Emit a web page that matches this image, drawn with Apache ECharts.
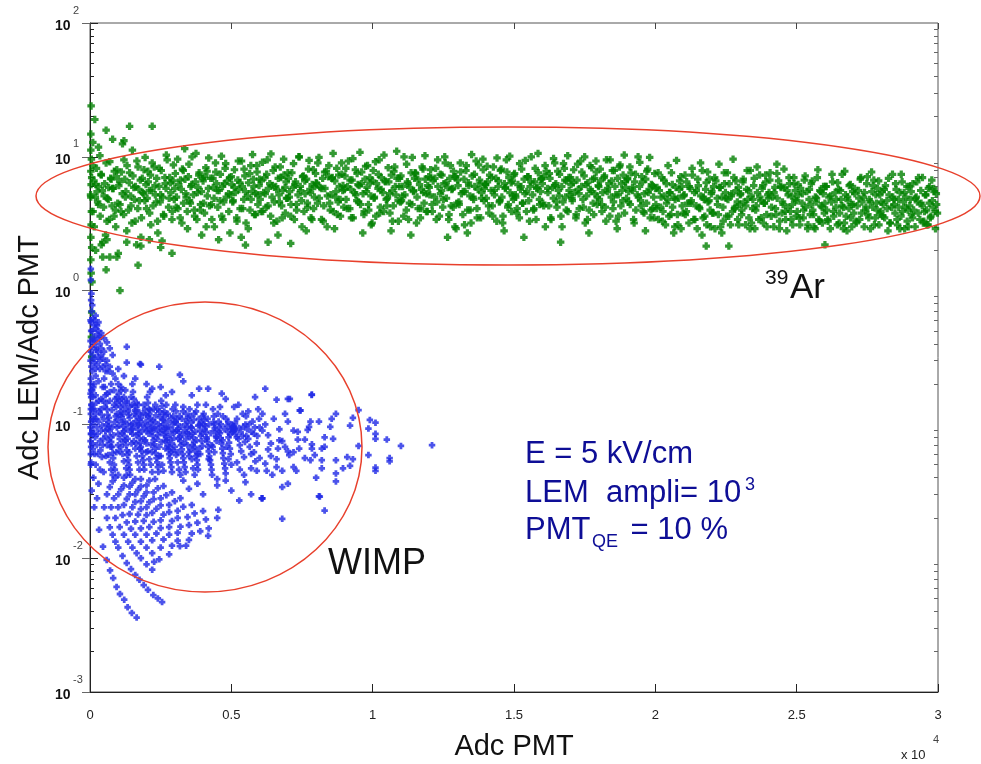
<!DOCTYPE html>
<html><head><meta charset="utf-8">
<script src="https://cdn.jsdelivr.net/npm/echarts@6/dist/echarts.min.js"></script>
<style>html,body{margin:0;padding:0;background:#fff}#c{width:981px;height:764px}</style>
</head><body><div id="c"></div>
<script>
// ---- axis ticks ----
const xTickValues = [0, 0.5, 1, 1.5, 2, 2.5, 3];
const yDecades = [0.001, 0.01, 0.1, 1, 10, 100];
const yMinorTicks = [0.002,0.003,0.004,0.005,0.006,0.007,0.008,0.009,
  0.02,0.03,0.04,0.05,0.06,0.07,0.08,0.09,
  0.2,0.3,0.4,0.5,0.6,0.7,0.8,0.9,
  2,3,4,5,6,7,8,9,
  20,30,40,50,60,70,80,90];

// ---- 39Ar (green) points: [Adc PMT /1e4, Adc LEM/Adc PMT] ----
const greenOutliers = [[0.004,24],[0.017,19],[0.057,15.8],[0.003,14.8],[0.14,16.9],[0.22,16.9],[0.01,12.8],[0.08,13.5],[0.03,11.8],[0.12,13.2],[0.003,11.2],[0.005,9.6],[0.003,7.8],[0.004,6.2],[0.003,5.0],[0.005,3.9],[0.004,3.1],[0.003,2.5],[0.006,2.1],[0.02,2.0],[0.045,1.78],[0.07,1.78],[0.095,1.78],[0.057,1.43],[0.17,1.55],[0.29,1.9],[0.106,1.0],[0.007,1.16],[0.006,0.69],[0.006,0.32],[0.005,0.45],[0.004,1.35],[0.18,2.15],[0.13,2.3],[0.25,2.1],[0.06,2.4],[0.04,2.2],[0.1,1.9],[0.21,2.4],[0.003,1.7],[0.55,2.19],[0.63,2.3],[0.71,2.25],[2.18,2.15],[2.26,2.15],[2.6,2.2],[2.43,8.8]];
const greenLeft = [[0.01,8.6],[0.02,6.2],[0.03,4.4],[0.04,7.3],[0.05,5.1],[0.06,3.3],[0.07,9.2],[0.08,5.8],[0.09,4.0],[0.015,3.0],[0.035,10.2],[0.055,2.6],[0.075,6.8],[0.085,3.6],[0.095,8.0],[0.025,5.5],[0.045,2.3],[0.065,4.8],
[0.105,6.5],[0.11,3.9],[0.12,9.5],[0.125,5.0],[0.13,2.8],[0.14,7.6],[0.145,4.3],[0.15,11.2],[0.155,5.9],[0.16,3.3],[0.17,8.4],[0.175,4.7],[0.18,2.5],[0.185,6.9],[0.19,5.3],[0.195,9.9],[0.115,12.5],[0.165,2.2],
[0.2,4.1],[0.205,7.8],[0.21,5.6],[0.215,3.1],[0.22,9.0],[0.23,6.1],[0.235,4.6],[0.24,2.7],[0.245,8.2],[0.25,5.2],[0.26,3.7],[0.265,7.0],[0.27,10.3],[0.28,4.9],[0.285,6.4],[0.29,3.4],[0.295,8.7],[0.255,2.35],
[0.3,5.8],[0.305,4.2],[0.31,9.6],[0.32,6.7],[0.325,3.2],[0.33,7.9],[0.34,5.0],[0.345,2.9],[0.35,8.8],[0.355,4.5],[0.36,6.2],[0.37,3.6],[0.375,10.6],[0.38,5.4],[0.385,7.3],[0.39,4.0],[0.395,2.6],[0.335,11.5],
[0.4,6.6],[0.405,3.8],[0.41,8.3],[0.415,5.1],[0.42,9.8],[0.43,4.4],[0.435,6.9],[0.44,3.0],[0.445,7.7],[0.45,5.6],[0.46,4.7],[0.465,10.1],[0.47,3.4],[0.475,6.3],[0.48,8.9],[0.49,5.3],[0.495,2.7],[0.455,2.4],
[0.5,7.1],[0.505,4.6],[0.51,5.9],[0.52,3.3],[0.525,9.3],[0.53,6.4],[0.54,4.1],[0.545,8.1],[0.55,5.5],[0.56,2.9],[0.565,7.5],[0.57,4.8],[0.575,10.4],[0.58,6.0],[0.585,3.7],[0.59,8.6],[0.595,5.2],[0.535,2.5],
[0.6,6.8],[0.605,3.9],[0.61,9.1],[0.62,5.3],[0.625,7.4],[0.63,4.3],[0.64,10.5],[0.645,6.1],[0.65,3.2],[0.655,8.4],[0.66,5.7],[0.67,4.6],[0.675,7.0],[0.68,3.5],[0.685,9.6],[0.69,5.9],[0.695,4.9],[0.665,2.6],
[0.7,7.6],[0.705,5.0],[0.71,3.6],[0.72,8.9],[0.725,6.2],[0.73,4.4],[0.74,10.0],[0.745,5.6],[0.75,3.0],[0.755,7.2],[0.76,6.6],[0.77,4.2],[0.775,9.4],[0.78,5.4],[0.785,3.4],[0.79,8.0],[0.795,6.0],[0.765,2.8],
[0.8,6.4],[0.805,4.5],[0.81,9.9],[0.82,5.8],[0.825,3.3],[0.83,7.7],[0.84,5.1],[0.845,8.6],[0.85,4.0],[0.855,6.9],[0.86,10.6],[0.87,5.5],[0.875,3.7],[0.88,7.3],[0.885,4.8],[0.89,9.0],[0.895,6.1],[0.865,2.9],
[0.9,5.7],[0.905,8.2],[0.91,4.1],[0.92,6.7],[0.925,3.5],[0.93,9.7],[0.94,5.2],[0.945,7.5],[0.95,4.6],[0.955,10.8],[0.96,6.3],[0.97,3.9],[0.975,8.5],[0.98,5.9],[0.985,4.4],[0.99,7.0],[0.995,3.1],[0.965,2.7]];
const greenLeftCore = [[0.002,5.2],[0.006,7.0],[0.011,3.9],[0.014,6.6],[0.019,5.0],[0.023,8.2],[0.027,4.6],[0.031,6.0],[0.036,3.6],[0.039,7.4],[0.044,5.6],[0.048,4.2],[0.052,6.3],[0.057,9.0],[0.061,4.9],[0.066,5.9],[0.069,3.4],[0.073,6.9],[0.078,4.3],[0.082,5.8],[0.086,7.8],[0.091,3.0],[0.094,7.1],[0.098,4.5],
[0.102,6.1],[0.106,4.4],[0.111,7.7],[0.114,5.3],[0.119,3.7],[0.123,6.8],[0.127,5.5],[0.131,8.6],[0.136,4.0],[0.139,6.4],[0.144,5.1],[0.148,3.2],[0.152,7.2],[0.157,4.8],[0.161,6.0],[0.166,9.3],[0.169,4.1],[0.173,5.7],[0.178,6.7],[0.182,3.5],[0.186,5.4],[0.191,8.0],[0.194,4.7],[0.198,6.2],
[0.202,4.9],[0.206,6.5],[0.211,3.8],[0.214,7.3],[0.219,5.6],[0.223,4.3],[0.227,8.4],[0.231,5.2],[0.236,6.9],[0.239,3.3],[0.244,6.0],[0.248,4.6],[0.252,7.9],[0.257,5.0],[0.261,3.6],[0.266,6.3],[0.269,5.8],[0.273,9.5],[0.278,4.2],[0.282,7.0],[0.286,5.4],[0.291,3.9],[0.294,6.6],[0.298,4.8],
[0.302,7.5],[0.306,5.0],[0.311,4.1],[0.314,6.2],[0.319,3.5],[0.323,5.7],[0.327,8.1],[0.331,4.5],[0.336,6.8],[0.339,5.3],[0.344,3.9],[0.348,7.1],[0.352,4.7],[0.357,6.0],[0.361,10.0],[0.366,5.2],[0.369,4.0],[0.373,6.5],[0.378,3.4],[0.382,5.9],[0.386,7.6],[0.391,4.4],[0.394,5.5],[0.398,6.9],
[0.402,4.5],[0.406,7.1],[0.411,3.0],[0.414,7.8],[0.419,5.8],[0.423,4.3],[0.427,6.9],[0.431,3.4],[0.436,5.9],[0.439,4.9],[0.444,9.0],[0.448,6.3],[0.452,4.2],[0.457,5.6],[0.461,7.4],[0.466,3.6],[0.469,6.0],[0.473,4.6],[0.478,8.2],[0.482,5.0],[0.486,6.6],[0.491,3.9],[0.494,7.0],[0.498,5.2],
[0.502,6.2],[0.506,4.7],[0.511,8.0],[0.514,5.4],[0.519,3.5],[0.523,6.7],[0.527,5.7],[0.531,4.1],[0.536,9.3],[0.539,6.0],[0.544,4.8],[0.548,7.2],[0.552,3.2],[0.557,5.1],[0.561,6.4],[0.566,4.0],[0.569,8.6],[0.573,5.5],[0.578,6.8],[0.582,3.7],[0.586,5.3],[0.591,7.7],[0.594,4.4],[0.598,6.1],
[0.602,4.8],[0.606,6.6],[0.611,3.9],[0.614,5.4],[0.619,7.0],[0.623,4.2],[0.627,9.5],[0.631,5.8],[0.636,6.3],[0.639,3.6],[0.644,5.0],[0.648,7.9],[0.652,4.6],[0.657,6.0],[0.661,3.3],[0.666,6.9],[0.669,5.2],[0.673,8.4],[0.678,4.3],[0.682,5.6],[0.686,7.3],[0.691,3.8],[0.694,6.5],[0.698,4.9],
[0.702,6.9],[0.706,5.5],[0.711,4.4],[0.714,7.6],[0.719,5.9],[0.723,3.4],[0.727,6.5],[0.731,4.0],[0.736,5.2],[0.739,10.0],[0.744,6.0],[0.748,4.7],[0.752,7.1],[0.757,3.9],[0.761,5.3],[0.766,6.8],[0.769,4.5],[0.773,8.1],[0.778,5.7],[0.782,3.5],[0.786,6.2],[0.791,4.1],[0.794,5.0],[0.798,7.5],
[0.802,6.3],[0.806,9.0],[0.811,4.9],[0.814,5.9],[0.819,3.4],[0.823,6.9],[0.827,4.3],[0.831,5.8],[0.836,7.8],[0.839,3.0],[0.844,7.1],[0.848,4.5],[0.852,5.2],[0.857,7.0],[0.861,3.9],[0.866,6.6],[0.869,5.0],[0.873,8.2],[0.878,4.6],[0.882,6.0],[0.886,3.6],[0.891,7.4],[0.894,5.6],[0.898,4.2],
[0.902,7.2],[0.906,4.8],[0.911,6.0],[0.914,9.3],[0.919,4.1],[0.923,5.7],[0.927,6.7],[0.931,3.5],[0.936,5.4],[0.939,8.0],[0.944,4.7],[0.948,6.2],[0.952,6.1],[0.957,4.4],[0.961,7.7],[0.966,5.3],[0.969,3.7],[0.973,6.8],[0.978,5.5],[0.982,8.6],[0.986,4.0],[0.991,6.4],[0.994,5.1],[0.998,3.2]];
const greenMid = [[1.0,6.6],[1.005,4.9],[1.01,9.2],[1.02,7.4],[1.025,3.8],[1.03,5.7],[1.04,10.3],[1.045,6.5],[1.05,4.3],[1.055,8.3],[1.06,5.3],[1.07,3.3],[1.075,7.8],[1.08,6.0],[1.085,11.0],[1.09,4.7],[1.095,6.9],[1.065,2.8],
[1.1,7.2],[1.105,5.1],[1.11,3.6],[1.12,8.8],[1.125,6.3],[1.13,4.5],[1.14,9.9],[1.145,5.6],[1.15,7.6],[1.155,3.2],[1.16,6.8],[1.17,4.1],[1.175,8.4],[1.18,5.4],[1.185,10.2],[1.19,3.9],[1.195,6.1],[1.135,2.6],
[1.2,5.9],[1.205,8.0],[1.21,4.4],[1.22,6.9],[1.225,3.4],[1.23,9.5],[1.24,5.3],[1.245,7.3],[1.25,4.8],[1.255,10.0],[1.26,6.4],[1.27,3.7],[1.275,8.6],[1.28,5.7],[1.285,4.2],[1.29,7.1],[1.295,2.9],[1.265,2.5],
[1.3,6.7],[1.305,4.6],[1.31,9.0],[1.32,5.5],[1.325,3.1],[1.33,7.9],[1.34,6.1],[1.345,4.0],[1.35,10.4],[1.355,5.0],[1.36,7.4],[1.37,3.5],[1.375,8.7],[1.38,6.3],[1.385,4.9],[1.39,9.6],[1.395,5.8],[1.335,2.7],
[1.4,6.2],[1.405,8.5],[1.41,4.3],[1.42,7.0],[1.425,3.6],[1.43,5.6],[1.44,9.8],[1.445,6.6],[1.45,4.7],[1.455,8.1],[1.46,3.2],[1.47,5.9],[1.475,7.7],[1.48,4.4],[1.485,10.1],[1.49,6.4],[1.495,5.1],[1.465,2.8],
[1.5,7.3],[1.505,5.2],[1.51,3.8],[1.52,8.9],[1.525,6.0],[1.53,4.5],[1.54,9.4],[1.545,5.5],[1.55,7.1],[1.555,3.3],[1.56,6.5],[1.57,4.1],[1.575,8.2],[1.58,5.8],[1.585,10.6],[1.59,4.8],[1.595,6.8],[1.535,2.5],
[1.6,6.3],[1.605,4.3],[1.61,8.6],[1.62,5.4],[1.625,7.5],[1.63,3.5],[1.64,9.7],[1.645,6.1],[1.65,4.6],[1.655,7.8],[1.66,5.1],[1.67,3.0],[1.675,8.9],[1.68,6.7],[1.685,4.0],[1.69,10.2],[1.695,5.6],[1.665,2.3],
[1.7,7.0],[1.705,4.9],[1.71,6.4],[1.72,3.7],[1.725,8.8],[1.73,5.3],[1.74,7.7],[1.745,4.2],[1.75,10.0],[1.755,6.2],[1.76,3.4],[1.77,5.7],[1.775,8.3],[1.78,4.5],[1.785,6.9],[1.79,9.3],[1.795,5.0],[1.765,2.7],
[1.8,6.0],[1.805,8.1],[1.81,4.4],[1.82,7.2],[1.825,3.3],[1.83,5.5],[1.84,9.5],[1.845,6.6],[1.85,4.1],[1.855,7.9],[1.86,5.2],[1.87,3.6],[1.875,8.7],[1.88,6.3],[1.885,4.7],[1.89,10.3],[1.895,5.9],[1.865,2.9],
[1.9,6.8],[1.905,4.6],[1.91,8.4],[1.92,5.6],[1.925,3.2],[1.93,7.4],[1.94,5.0],[1.945,9.1],[1.95,4.3],[1.955,6.5],[1.96,3.8],[1.97,7.8],[1.975,5.4],[1.98,9.9],[1.985,4.0],[1.99,6.1],[1.995,3.5],[1.965,2.8]];
const greenMidCore = [[1.002,7.9],[1.006,5.0],[1.011,3.6],[1.014,6.3],[1.019,5.8],[1.023,9.5],[1.027,4.2],[1.031,7.0],[1.036,5.4],[1.039,3.9],[1.044,6.6],[1.048,4.8],[1.052,4.9],[1.057,6.5],[1.061,3.8],[1.066,7.3],[1.069,5.6],[1.073,4.3],[1.078,8.4],[1.082,5.2],[1.086,6.9],[1.091,3.3],[1.094,6.0],[1.098,4.6],
[1.102,4.7],[1.106,6.0],[1.111,10.0],[1.114,5.2],[1.119,4.0],[1.123,6.5],[1.127,3.4],[1.131,5.9],[1.136,7.6],[1.139,4.4],[1.144,5.5],[1.148,6.9],[1.152,7.5],[1.157,5.0],[1.161,4.1],[1.166,6.2],[1.169,3.5],[1.173,5.7],[1.178,8.1],[1.182,4.5],[1.186,6.8],[1.191,5.3],[1.194,3.9],[1.198,7.1],
[1.202,5.2],[1.206,7.0],[1.211,3.9],[1.214,6.6],[1.219,5.0],[1.223,8.2],[1.227,4.6],[1.231,6.0],[1.236,3.6],[1.239,7.4],[1.244,5.6],[1.248,4.2],[1.252,6.3],[1.257,9.0],[1.261,4.9],[1.266,5.9],[1.269,3.4],[1.273,6.9],[1.278,4.3],[1.282,5.8],[1.286,7.8],[1.291,3.0],[1.294,7.1],[1.298,4.5],
[1.302,6.1],[1.306,4.4],[1.311,7.7],[1.314,5.3],[1.319,3.7],[1.323,6.8],[1.327,5.5],[1.331,8.6],[1.336,4.0],[1.339,6.4],[1.344,5.1],[1.348,3.2],[1.352,7.2],[1.357,4.8],[1.361,6.0],[1.366,9.3],[1.369,4.1],[1.373,5.7],[1.378,6.7],[1.382,3.5],[1.386,5.4],[1.391,8.0],[1.394,4.7],[1.398,6.2],
[1.402,4.9],[1.406,6.5],[1.411,3.8],[1.414,7.3],[1.419,5.6],[1.423,4.3],[1.427,8.4],[1.431,5.2],[1.436,6.9],[1.439,3.3],[1.444,6.0],[1.448,4.6],[1.452,7.9],[1.457,5.0],[1.461,3.6],[1.466,6.3],[1.469,5.8],[1.473,9.5],[1.478,4.2],[1.482,7.0],[1.486,5.4],[1.491,3.9],[1.494,6.6],[1.498,4.8],
[1.502,7.5],[1.506,5.0],[1.511,4.1],[1.514,6.2],[1.519,3.5],[1.523,5.7],[1.527,8.1],[1.531,4.5],[1.536,6.8],[1.539,5.3],[1.544,3.9],[1.548,7.1],[1.552,4.7],[1.557,6.0],[1.561,10.0],[1.566,5.2],[1.569,4.0],[1.573,6.5],[1.578,3.4],[1.582,5.9],[1.586,7.6],[1.591,4.4],[1.594,5.5],[1.598,6.9],
[1.602,4.5],[1.606,7.1],[1.611,3.0],[1.614,7.8],[1.619,5.8],[1.623,4.3],[1.627,6.9],[1.631,3.4],[1.636,5.9],[1.639,4.9],[1.644,9.0],[1.648,6.3],[1.652,4.2],[1.657,5.6],[1.661,7.4],[1.666,3.6],[1.669,6.0],[1.673,4.6],[1.678,8.2],[1.682,5.0],[1.686,6.6],[1.691,3.9],[1.694,7.0],[1.698,5.2],
[1.702,6.2],[1.706,4.7],[1.711,8.0],[1.714,5.4],[1.719,3.5],[1.723,6.7],[1.727,5.7],[1.731,4.1],[1.736,9.3],[1.739,6.0],[1.744,4.8],[1.748,7.2],[1.752,3.2],[1.757,5.1],[1.761,6.4],[1.766,4.0],[1.769,8.6],[1.773,5.5],[1.778,6.8],[1.782,3.7],[1.786,5.3],[1.791,7.7],[1.794,4.4],[1.798,6.1],
[1.802,4.8],[1.806,6.6],[1.811,3.9],[1.814,5.4],[1.819,7.0],[1.823,4.2],[1.827,9.5],[1.831,5.8],[1.836,6.3],[1.839,3.6],[1.844,5.0],[1.848,7.9],[1.852,4.6],[1.857,6.0],[1.861,3.3],[1.866,6.9],[1.869,5.2],[1.873,8.4],[1.878,4.3],[1.882,5.6],[1.886,7.3],[1.891,3.8],[1.894,6.5],[1.898,4.9],
[1.902,6.9],[1.906,5.5],[1.911,4.4],[1.914,7.6],[1.919,5.9],[1.923,3.4],[1.927,6.5],[1.931,4.0],[1.936,5.2],[1.939,10.0],[1.944,6.0],[1.948,4.7],[1.952,7.1],[1.957,3.9],[1.961,5.3],[1.966,6.8],[1.969,4.5],[1.973,8.1],[1.978,5.7],[1.982,3.5],[1.986,6.2],[1.991,4.1],[1.994,5.0],[1.998,7.5]];
const greenRight = [[2.0,5.8],[2.005,4.1],[2.01,7.6],[2.02,5.0],[2.025,3.3],[2.03,6.7],[2.04,4.5],[2.045,8.6],[2.05,5.4],[2.055,3.7],[2.06,6.2],[2.07,4.8],[2.075,9.4],[2.08,3.1],[2.085,5.7],[2.09,7.1],[2.095,4.3],[2.065,2.7],
[2.1,5.1],[2.105,7.3],[2.11,3.9],[2.12,6.0],[2.125,4.5],[2.13,8.2],[2.14,3.4],[2.145,5.6],[2.15,6.8],[2.155,4.2],[2.16,9.0],[2.17,5.0],[2.175,3.6],[2.18,6.4],[2.185,7.7],[2.19,4.7],[2.195,3.0],[2.165,2.6],
[2.2,5.5],[2.205,3.8],[2.21,7.0],[2.22,4.4],[2.225,8.8],[2.23,5.9],[2.24,3.3],[2.245,6.3],[2.25,4.9],[2.255,7.6],[2.26,3.6],[2.27,5.3],[2.275,9.6],[2.28,4.1],[2.285,6.6],[2.29,4.6],[2.295,3.1],[2.235,2.7],
[2.3,5.2],[2.305,3.7],[2.31,6.5],[2.32,4.3],[2.325,7.9],[2.33,5.6],[2.34,3.2],[2.345,4.8],[2.35,6.9],[2.355,4.0],[2.36,8.4],[2.37,5.0],[2.375,3.5],[2.38,6.1],[2.385,4.5],[2.39,7.3],[2.395,3.0],[2.335,2.9],
[2.4,4.9],[2.405,6.7],[2.41,3.6],[2.42,5.4],[2.425,4.1],[2.43,7.5],[2.44,3.3],[2.445,5.9],[2.45,4.6],[2.455,8.1],[2.46,3.9],[2.47,5.2],[2.475,6.3],[2.48,3.4],[2.485,4.4],[2.49,7.0],[2.495,5.6],[2.465,2.8],
[2.5,4.7],[2.505,6.2],[2.51,3.5],[2.52,5.3],[2.525,4.0],[2.53,7.2],[2.54,3.1],[2.545,5.7],[2.55,4.4],[2.555,6.6],[2.56,3.7],[2.57,4.9],[2.575,8.0],[2.58,3.3],[2.585,5.5],[2.59,4.2],[2.595,6.0],[2.565,2.9],
[2.6,4.5],[2.605,6.0],[2.61,3.4],[2.62,5.1],[2.625,7.4],[2.63,3.9],[2.64,4.8],[2.645,6.4],[2.65,3.2],[2.655,5.6],[2.66,4.3],[2.67,7.8],[2.675,3.6],[2.68,5.0],[2.685,4.1],[2.69,6.2],[2.695,3.0],[2.665,2.9],
[2.7,4.4],[2.705,5.8],[2.71,3.3],[2.72,4.9],[2.725,6.8],[2.73,3.8],[2.74,5.4],[2.745,4.2],[2.75,7.1],[2.755,3.5],[2.76,4.6],[2.77,6.1],[2.775,3.1],[2.78,5.2],[2.785,4.0],[2.79,6.6],[2.795,3.7],[2.765,7.7],
[2.8,4.6],[2.805,3.6],[2.81,5.7],[2.82,4.1],[2.825,6.9],[2.83,3.2],[2.84,5.0],[2.845,4.4],[2.85,6.3],[2.855,3.4],[2.86,4.8],[2.87,7.4],[2.875,3.9],[2.88,5.4],[2.885,4.2],[2.89,6.0],[2.895,3.0],[2.865,2.9],
[2.9,4.3],[2.905,5.5],[2.91,3.5],[2.92,4.9],[2.925,6.5],[2.93,3.8],[2.94,4.5],[2.945,7.0],[2.95,3.3],[2.955,5.2],[2.96,4.0],[2.97,6.0],[2.975,3.6],[2.98,4.7],[2.985,5.8],[2.99,3.9],[2.995,4.4],[2.965,3.1]];
const greenRightCore = [[2.002,4.4],[2.006,5.9],[2.011,3.4],[2.014,5.6],[2.019,4.2],[2.023,7.0],[2.027,3.9],[2.031,5.1],[2.036,3.1],[2.039,6.3],[2.044,4.8],[2.048,3.6],[2.052,5.4],[2.057,7.6],[2.061,4.2],[2.066,5.0],[2.069,3.0],[2.073,5.9],[2.078,3.7],[2.082,4.9],[2.086,6.6],[2.091,2.9],[2.094,6.0],[2.098,3.8],
[2.102,5.2],[2.106,3.7],[2.111,6.5],[2.114,4.5],[2.119,3.2],[2.123,5.8],[2.127,4.7],[2.131,7.3],[2.136,3.4],[2.139,5.4],[2.144,4.3],[2.148,2.9],[2.152,6.1],[2.157,4.1],[2.161,5.1],[2.166,7.9],[2.169,3.5],[2.173,4.8],[2.178,5.7],[2.182,3.1],[2.186,4.6],[2.191,6.8],[2.194,4.0],[2.198,5.3],
[2.202,3.8],[2.206,6.0],[2.211,2.9],[2.214,6.6],[2.219,4.9],[2.223,3.7],[2.227,5.9],[2.231,3.0],[2.236,5.0],[2.239,4.2],[2.244,7.6],[2.248,5.4],[2.252,3.6],[2.257,4.8],[2.261,6.3],[2.266,3.1],[2.269,5.1],[2.273,3.9],[2.278,7.0],[2.282,4.2],[2.286,5.6],[2.291,3.4],[2.294,5.9],[2.298,4.4],
[2.302,5.3],[2.306,4.0],[2.311,6.8],[2.314,4.6],[2.319,3.1],[2.323,5.7],[2.327,4.8],[2.331,3.5],[2.336,7.9],[2.339,5.1],[2.344,4.1],[2.348,6.1],[2.352,2.9],[2.357,4.3],[2.361,5.4],[2.366,3.4],[2.369,7.3],[2.373,4.7],[2.378,5.8],[2.382,3.2],[2.386,4.5],[2.391,6.5],[2.394,3.7],[2.398,5.2],
[2.402,5.4],[2.406,7.6],[2.411,4.2],[2.414,5.0],[2.419,3.0],[2.423,5.9],[2.427,3.7],[2.431,4.9],[2.436,6.6],[2.439,2.9],[2.444,6.0],[2.448,3.8],[2.452,4.4],[2.457,5.9],[2.461,3.4],[2.466,5.6],[2.469,4.2],[2.473,7.0],[2.478,3.9],[2.482,5.1],[2.486,3.1],[2.491,6.3],[2.494,4.8],[2.498,3.6],
[2.502,3.9],[2.506,5.2],[2.511,3.1],[2.514,5.8],[2.519,4.5],[2.523,3.5],[2.527,6.7],[2.531,4.2],[2.536,5.5],[2.539,2.9],[2.544,4.8],[2.548,3.7],[2.552,6.3],[2.557,4.0],[2.561,3.0],[2.566,5.0],[2.569,4.6],[2.573,7.0],[2.578,3.4],[2.582,5.6],[2.586,4.3],[2.591,3.2],[2.594,5.3],[2.598,3.8],
[2.602,6.0],[2.606,4.0],[2.611,3.3],[2.614,5.0],[2.619,2.9],[2.623,4.6],[2.627,6.5],[2.631,3.6],[2.636,5.4],[2.639,4.2],[2.644,3.1],[2.648,5.7],[2.652,3.8],[2.657,4.8],[2.661,7.4],[2.666,4.2],[2.669,3.2],[2.673,5.2],[2.678,2.8],[2.682,4.7],[2.686,6.1],[2.691,3.5],[2.694,4.4],[2.698,5.5],
[2.702,3.8],[2.706,5.3],[2.711,3.2],[2.714,4.3],[2.719,5.6],[2.723,3.4],[2.727,7.0],[2.731,4.6],[2.736,5.0],[2.739,3.0],[2.744,4.0],[2.748,6.3],[2.752,3.7],[2.757,4.8],[2.761,2.9],[2.766,5.5],[2.769,4.2],[2.773,6.7],[2.778,3.5],[2.782,4.5],[2.786,5.8],[2.791,3.1],[2.794,5.2],[2.798,3.9],
[2.802,5.5],[2.806,4.4],[2.811,3.5],[2.814,6.1],[2.819,4.7],[2.823,2.8],[2.827,5.2],[2.831,3.2],[2.836,4.2],[2.839,7.4],[2.844,4.8],[2.848,3.8],[2.852,5.7],[2.857,3.1],[2.861,4.2],[2.866,5.4],[2.869,3.6],[2.873,6.5],[2.878,4.6],[2.882,2.9],[2.886,5.0],[2.891,3.3],[2.894,4.0],[2.898,6.0],
[2.902,4.8],[2.906,3.7],[2.911,6.3],[2.914,4.0],[2.919,3.0],[2.923,5.0],[2.927,4.6],[2.931,7.0],[2.936,3.4],[2.939,5.6],[2.944,4.3],[2.948,3.2],[2.952,3.9],[2.957,5.2],[2.961,3.1],[2.966,5.8],[2.969,4.5],[2.973,3.5],[2.978,6.7],[2.982,4.2],[2.986,5.5],[2.991,2.9],[2.994,5.3],[2.998,3.8]];

// ---- WIMP (blue) points ----
const blueColumn = [[0.003,1.45],[0.003,1.2],[0.005,0.95],[0.004,0.85],[0.008,0.78],[0.006,0.7],[0.01,0.62],[0.004,0.58],[0.015,0.55],[0.02,0.52],[0.008,0.5],[0.025,0.47],[0.012,0.45],[0.03,0.44],[0.018,0.42],[0.035,0.4],[0.006,0.38],[0.04,0.37],[0.022,0.36],[0.05,0.35],[0.01,0.33],[0.028,0.32],[0.045,0.31],[0.06,0.3],[0.015,0.29],[0.055,0.28],[0.07,0.27],[0.035,0.26],[0.008,0.25],[0.065,0.25],[0.08,0.24],[0.02,0.23],[0.05,0.22],[0.09,0.22],[0.03,0.21],[0.075,0.2],[0.1,0.2],[0.012,0.19],[0.045,0.19],[0.085,0.18],[0.11,0.18],[0.06,0.17],[0.02,0.165],[0.095,0.16],[0.12,0.16],[0.04,0.155],[0.07,0.15],[0.13,0.15],[0.005,0.14],
[0.002,0.6],[0.004,0.5],[0.002,0.42],[0.003,0.35],[0.002,0.3],[0.005,0.27],[0.003,0.22],[0.002,0.17],[0.003,0.12],[0.002,0.095],[0.002,0.075],[0.003,0.06],[0.016,0.6],[0.025,0.55],[0.03,0.5],[0.038,0.45],[0.012,0.42],[0.02,0.38],[0.028,0.35],[0.04,0.33],[0.015,0.31],[0.025,0.28],[0.035,0.3],[0.045,0.27],[0.055,0.25],[0.02,0.26],
[0.003,0.2],[0.004,0.16],[0.003,0.13],[0.004,0.105],[0.003,0.085],[0.004,0.068],[0.003,0.05],[0.008,0.18],[0.009,0.13],[0.008,0.09],[0.009,0.072],[0.014,0.2],[0.015,0.11],[0.014,0.085],[0.016,0.06]];
const blueCore = [[0.004,0.18],[0.01,0.16],[0.006,0.14],[0.015,0.13],[0.02,0.12],[0.008,0.11],[0.03,0.105],[0.012,0.1],[0.025,0.095],[0.04,0.09],[0.005,0.085],[0.018,0.08],[0.035,0.075],[0.045,0.07],[0.01,0.065],[0.028,0.06],[0.042,0.057],[0.004,0.052],[0.02,0.05],[0.035,0.046],[0.048,0.044],[0.012,0.04],[0.03,0.036],[0.006,0.032],[0.025,0.028],[0.015,0.024],[0.045,0.15],[0.038,0.13],[0.048,0.11],[0.022,0.145],
[0.052,0.19],[0.055,0.165],[0.058,0.145],[0.06,0.13],[0.062,0.118],[0.065,0.105],[0.068,0.097],[0.07,0.089],[0.072,0.08],[0.075,0.074],[0.078,0.068],[0.08,0.061],[0.082,0.056],[0.085,0.05],[0.088,0.046],[0.09,0.155],[0.092,0.135],[0.095,0.12],[0.098,0.108],[0.055,0.082],[0.06,0.07],[0.065,0.059],[0.07,0.052],[0.075,0.046],[0.08,0.042],[0.085,0.14],[0.07,0.175],[0.095,0.095],[0.1,0.085],[0.058,0.1],
[0.102,0.17],[0.105,0.15],[0.108,0.135],[0.11,0.125],[0.112,0.113],[0.115,0.104],[0.118,0.096],[0.12,0.089],[0.122,0.082],[0.125,0.076],[0.128,0.07],[0.13,0.064],[0.132,0.059],[0.135,0.054],[0.138,0.05],[0.14,0.046],[0.142,0.042],[0.145,0.16],[0.148,0.14],[0.11,0.19],[0.125,0.18],[0.13,0.145],[0.135,0.125],[0.14,0.112],[0.145,0.1],[0.148,0.092],[0.105,0.078],[0.11,0.068],[0.115,0.06],[0.12,0.053],[0.128,0.047],[0.134,0.1],[0.118,0.12],
[0.152,0.175],[0.155,0.155],[0.158,0.138],[0.16,0.127],[0.162,0.115],[0.165,0.106],[0.168,0.098],[0.17,0.091],[0.172,0.085],[0.175,0.079],[0.178,0.073],[0.18,0.068],[0.182,0.063],[0.185,0.058],[0.188,0.054],[0.19,0.05],[0.192,0.046],[0.195,0.13],[0.198,0.118],[0.15,0.085],[0.155,0.075],[0.16,0.066],[0.165,0.058],[0.17,0.052],[0.175,0.046],[0.18,0.112],[0.185,0.1],[0.19,0.14],[0.2,0.09],[0.165,0.145],[0.175,0.12],[0.195,0.076],
[0.202,0.16],[0.205,0.145],[0.208,0.13],[0.21,0.12],[0.212,0.11],[0.215,0.102],[0.218,0.095],[0.22,0.088],[0.222,0.082],[0.225,0.076],[0.228,0.071],[0.23,0.066],[0.232,0.061],[0.235,0.056],[0.238,0.052],[0.24,0.048],[0.242,0.044],[0.245,0.125],[0.248,0.113],[0.2,0.072],[0.205,0.063],[0.21,0.055],[0.215,0.05],[0.22,0.044],[0.225,0.13],[0.23,0.104],[0.235,0.092],[0.24,0.083],[0.245,0.068],[0.25,0.097],[0.212,0.175],
[0.252,0.15],[0.255,0.137],[0.258,0.12],[0.26,0.108],[0.262,0.1],[0.265,0.093],[0.268,0.087],[0.27,0.081],[0.272,0.076],[0.275,0.07],[0.278,0.065],[0.28,0.06],[0.282,0.056],[0.285,0.052],[0.288,0.048],[0.29,0.044],[0.292,0.13],[0.295,0.115],[0.298,0.104],[0.25,0.058],[0.255,0.05],[0.26,0.045],[0.265,0.075],[0.27,0.14],[0.275,0.12],[0.28,0.095],[0.285,0.084],[0.29,0.072],[0.295,0.064],[0.3,0.088],[0.268,0.165],
[0.302,0.14],[0.305,0.125],[0.308,0.11],[0.31,0.1],[0.312,0.093],[0.315,0.087],[0.318,0.081],[0.32,0.075],[0.322,0.07],[0.325,0.065],[0.328,0.06],[0.33,0.056],[0.332,0.052],[0.335,0.048],[0.338,0.044],[0.34,0.12],[0.342,0.106],[0.345,0.096],[0.348,0.085],[0.3,0.068],[0.305,0.059],[0.31,0.052],[0.315,0.046],[0.32,0.042],[0.325,0.11],[0.33,0.135],[0.335,0.09],[0.34,0.078],[0.345,0.07],[0.35,0.062],
[0.352,0.13],[0.355,0.115],[0.358,0.103],[0.36,0.094],[0.362,0.086],[0.365,0.08],[0.368,0.074],[0.37,0.068],[0.372,0.063],[0.375,0.058],[0.378,0.054],[0.38,0.05],[0.382,0.046],[0.385,0.11],[0.388,0.099],[0.39,0.09],[0.392,0.082],[0.395,0.075],[0.398,0.069],[0.355,0.065],[0.36,0.055],[0.365,0.047],[0.37,0.042],[0.375,0.125],[0.38,0.14],[0.39,0.06],[0.4,0.1],
[0.402,0.12],[0.405,0.108],[0.408,0.097],[0.41,0.088],[0.412,0.08],[0.415,0.074],[0.418,0.068],[0.42,0.063],[0.422,0.058],[0.425,0.054],[0.428,0.05],[0.43,0.046],[0.432,0.042],[0.435,0.13],[0.438,0.115],[0.44,0.1],[0.442,0.09],[0.445,0.082],[0.448,0.075],[0.41,0.14],[0.42,0.055],[0.43,0.07],[0.44,0.062],[0.45,0.039],
[0.452,0.12],[0.455,0.105],[0.458,0.095],[0.46,0.086],[0.462,0.079],[0.465,0.072],[0.468,0.066],[0.47,0.061],[0.472,0.056],[0.475,0.051],[0.478,0.047],[0.48,0.043],[0.482,0.11],[0.485,0.098],[0.488,0.088],[0.49,0.08],[0.492,0.073],[0.495,0.066],[0.498,0.06],[0.46,0.135],[0.47,0.115],[0.48,0.155],[0.49,0.055],[0.5,0.05],
[0.5,0.093],[0.503,0.095],[0.506,0.091],[0.508,0.094],[0.51,0.09],[0.504,0.088],[0.509,0.097],[0.512,0.092],[0.502,0.1],[0.515,0.085],[0.52,0.11],[0.525,0.078],[0.53,0.07],[0.535,0.063],[0.54,0.12],[0.545,0.057],[0.55,0.1],[0.52,0.052],[0.53,0.046],[0.54,0.082],[0.548,0.074],[0.51,0.135],[0.525,0.14],[0.545,0.042],
[0.552,0.115],[0.556,0.092],[0.56,0.078],[0.565,0.068],[0.57,0.06],[0.575,0.105],[0.58,0.085],[0.585,0.053],[0.59,0.072],[0.595,0.13],[0.6,0.095],[0.57,0.047],[0.58,0.062],[0.59,0.045],[0.56,0.125],[0.584,0.16],[0.6,0.056],[0.57,0.03]];
const blueCoreFill = [[0.022,0.11],[0.027,0.085],[0.033,0.125],[0.037,0.064],[0.043,0.098],[0.047,0.078],[0.052,0.135],[0.056,0.058],[0.063,0.092],[0.067,0.112],[0.073,0.068],[0.077,0.128],[0.083,0.083],[0.087,0.104],[0.093,0.062],[0.097,0.145],[0.024,0.07],[0.031,0.15],[0.041,0.118],[0.054,0.09],[0.066,0.076],[0.079,0.096],[0.091,0.115],[0.099,0.07],
[0.103,0.098],[0.107,0.118],[0.113,0.086],[0.117,0.14],[0.123,0.105],[0.127,0.092],[0.133,0.078],[0.137,0.118],[0.143,0.088],[0.147,0.072],[0.153,0.102],[0.157,0.12],[0.163,0.083],[0.167,0.128],[0.173,0.099],[0.177,0.066],[0.183,0.088],[0.187,0.121],[0.193,0.094],[0.197,0.105],[0.104,0.063],[0.116,0.074],[0.126,0.13],[0.139,0.062],[0.151,0.094],[0.164,0.072],[0.176,0.108],[0.189,0.078],[0.199,0.062],[0.112,0.155],[0.141,0.135],[0.171,0.14],
[0.203,0.098],[0.207,0.085],[0.213,0.128],[0.217,0.07],[0.223,0.108],[0.227,0.094],[0.233,0.117],[0.237,0.078],[0.243,0.1],[0.247,0.088],[0.253,0.074],[0.257,0.108],[0.263,0.125],[0.267,0.066],[0.273,0.094],[0.277,0.105],[0.283,0.077],[0.287,0.112],[0.293,0.09],[0.297,0.079],[0.206,0.115],[0.219,0.062],[0.231,0.14],[0.244,0.058],[0.256,0.09],[0.269,0.117],[0.281,0.068],[0.294,0.1],[0.211,0.09],[0.239,0.13],[0.262,0.083],[0.288,0.062],
[0.303,0.105],[0.307,0.09],[0.313,0.078],[0.317,0.115],[0.323,0.096],[0.327,0.083],[0.333,0.072],[0.337,0.1],[0.343,0.087],[0.347,0.112],[0.353,0.08],[0.357,0.095],[0.363,0.07],[0.367,0.108],[0.373,0.088],[0.377,0.076],[0.383,0.098],[0.387,0.066],[0.393,0.104],[0.397,0.085],[0.406,0.092],[0.413,0.078],[0.421,0.1],[0.427,0.086],[0.434,0.068],[0.441,0.094],[0.447,0.08],[0.311,0.062],[0.329,0.125],[0.351,0.058],[0.369,0.12],[0.381,0.06],[0.399,0.115],[0.416,0.11],[0.437,0.104],
[0.456,0.088],[0.463,0.1],[0.469,0.076],[0.476,0.092],[0.483,0.068],[0.489,0.104],[0.496,0.084],[0.513,0.102],[0.519,0.08],[0.527,0.094],[0.533,0.088],[0.542,0.096],[0.553,0.082],[0.562,0.1],[0.571,0.088],[0.583,0.095],[0.592,0.082],[0.598,0.11]];
const blueTail = [[0.61,0.12],[0.62,0.1],[0.63,0.083],[0.64,0.072],[0.62,0.185],[0.66,0.153],[0.65,0.11],[0.67,0.092],[0.68,0.075],[0.69,0.068],[0.7,0.105],[0.61,0.028],[0.665,0.066],[0.66,0.055],[0.66,0.048],[0.68,0.045],[0.64,0.058],[0.62,0.051],[0.625,0.045],[0.645,0.042],[0.67,0.076],[0.68,0.034],[0.68,0.0197],[0.608,0.028],[0.63,0.065],[0.61,0.09],[0.69,0.12],
[0.70,0.155],[0.745,0.127],[0.785,0.167],[0.87,0.12],[0.95,0.128],[0.99,0.108],[1.01,0.103],[0.985,0.093],[1.01,0.085],[1.01,0.078],[1.05,0.077],[1.10,0.069],[1.21,0.070],[0.95,0.069],[0.985,0.059],[1.06,0.056],[1.06,0.053],[1.01,0.0476],[1.01,0.045],[0.93,0.055],[0.92,0.049],[0.91,0.057],[0.895,0.047],[0.87,0.043],[0.87,0.0375],[0.80,0.040],[0.81,0.029],[0.83,0.0227],[0.855,0.11],[0.86,0.078],[0.83,0.08],[0.82,0.066],[0.82,0.054],[0.82,0.047],[0.85,0.096],[0.83,0.068],[0.87,0.054],[0.92,0.098],[0.93,0.112],[0.81,0.105],[0.78,0.105],[0.775,0.096],[0.77,0.091],[0.785,0.071],[0.785,0.066],[0.795,0.059],[0.78,0.054],[0.76,0.056],[0.74,0.066],[0.735,0.077],[0.76,0.077],[0.72,0.09],[0.735,0.088],[0.72,0.062],[0.705,0.059],[0.70,0.063],[0.72,0.048],[0.73,0.045],[0.70,0.036],[0.742,0.127],[0.707,0.155],[0.784,0.166],[0.813,0.0289]];
const blueSparse = [[0.418,0.0147],[0.454,0.023],[0.318,0.0123],[0.528,0.027],[0.608,0.028],[0.227,0.0094],[0.5,0.032],[0.45,0.035],[0.4,0.03],[0.38,0.036],[0.35,0.033],[0.33,0.038],[0.55,0.037],[0.48,0.038],
[0.13,0.38],[0.177,0.283],[0.245,0.27],[0.318,0.235],[0.386,0.185],[0.418,0.185],[0.466,0.17],[0.13,0.29],[0.18,0.28],[0.33,0.21],[0.08,0.33],[0.1,0.26],[0.12,0.23],[0.16,0.22],[0.2,0.2],[0.25,0.19],[0.29,0.175],[0.36,0.165],[0.15,0.2],[0.22,0.185],[0.06,0.41],[0.07,0.37],[0.04,0.48],[0.05,0.44],[0.03,0.58],[0.02,0.65]];
const blueStreaks = [[0.032,0.0163],[0.046,0.0122],[0.059,0.0097],[0.071,0.0081],[0.082,0.0071],[0.094,0.0061],[0.106,0.0054],[0.121,0.0049],[0.133,0.0043],[0.148,0.0039],[0.165,0.0036],
[0.05,0.024],[0.06,0.02],[0.07,0.017],[0.08,0.015],[0.09,0.0133],[0.1,0.012],[0.115,0.0104],[0.13,0.0092],[0.145,0.0083],[0.16,0.0075],[0.175,0.0069],[0.19,0.0063],[0.205,0.0058],[0.224,0.0053],[0.24,0.005],[0.255,0.0047],
[0.06,0.03],[0.075,0.024],[0.09,0.02],[0.105,0.0171],[0.12,0.015],[0.135,0.0133],[0.15,0.012],[0.165,0.0109],[0.18,0.01],[0.2,0.009],[0.22,0.0082],
[0.07,0.034],[0.085,0.028],[0.1,0.024],[0.115,0.021],[0.13,0.0185],[0.145,0.0166],[0.16,0.015],[0.18,0.0133],[0.2,0.012],[0.22,0.0109],[0.245,0.0098],
[0.08,0.0375],[0.1,0.03],[0.12,0.025],[0.14,0.0214],[0.16,0.0188],[0.18,0.0167],[0.2,0.015],[0.22,0.0136],[0.25,0.012],[0.28,0.0107],
[0.09,0.04],[0.11,0.0327],[0.13,0.0277],[0.15,0.024],[0.17,0.0212],[0.19,0.019],[0.21,0.0171],[0.235,0.0153],[0.26,0.0138],[0.29,0.0124],
[0.1,0.042],[0.12,0.035],[0.14,0.03],[0.16,0.0263],[0.18,0.0233],[0.2,0.021],[0.225,0.0187],[0.25,0.0168],[0.28,0.015],[0.31,0.0135],[0.34,0.0124],
[0.12,0.04],[0.14,0.0343],[0.16,0.03],[0.18,0.0267],[0.2,0.024],[0.22,0.0218],[0.25,0.0192],[0.28,0.0171],[0.31,0.0155],[0.35,0.0137],
[0.13,0.042],[0.15,0.0367],[0.17,0.0324],[0.19,0.029],[0.21,0.0262],[0.235,0.0234],[0.26,0.0212],[0.29,0.019],[0.32,0.0172],[0.36,0.0153],
[0.16,0.039],[0.18,0.0344],[0.2,0.031],[0.225,0.0276],[0.25,0.0248],[0.28,0.0221],[0.31,0.02],[0.35,0.0177],[0.39,0.0159],
[0.18,0.039],[0.2,0.035],[0.225,0.031],[0.25,0.028],[0.28,0.025],[0.31,0.0226],[0.345,0.0203],[0.38,0.0184],[0.42,0.0167],
[0.21,0.038],[0.24,0.0333],[0.27,0.0296],[0.3,0.0267],[0.33,0.0242],[0.37,0.0216],[0.41,0.0195],
[0.23,0.039],[0.26,0.0346],[0.29,0.031],[0.32,0.0281],[0.36,0.025],[0.4,0.0225],[0.45,0.02]];

const FONT = '"Liberation Sans", Arial, sans-serif';
const GREEN = '#008000';
const BLUE = '#1e28e6';
const RED = '#e8402c';
const TXTBLUE = '#0e0e96';
const plus = 'path://M2,0H5V2H7V5H5V7H2V5H0V2H2Z';

const chart = echarts.init(document.getElementById('c'), null, {renderer: 'canvas'});

const yCommon = {type: 'log', logBase: 10, min: 0.001, max: 100, splitLine: {show: false}};
const option = {
  animation: false,
  backgroundColor: '#fff',
  grid: {left: 90, right: 43, top: 23, bottom: 72, containLabel: false, outerBoundsMode: 'none',
         show: true, borderColor: '#555', borderWidth: 1},
  xAxis: [
    {type: 'value', min: 0, max: 3, interval: 0.5,
     axisLine: {onZero: false, lineStyle: {color: '#222', width: 1}},
     axisTick: {inside: true, length: 8, lineStyle: {color: '#222'}, customValues: xTickValues},
     axisLabel: {margin: 17, fontSize: 13, color: '#222', fontFamily: FONT, customValues: xTickValues},
     splitLine: {show: false},
     name: 'Adc PMT', nameLocation: 'middle', nameGap: 40,
     nameTextStyle: {fontSize: 29, color: '#111', fontFamily: FONT}},
    {type: 'value', position: 'top', min: 0, max: 3, interval: 0.5,
     axisLine: {show: false}, axisTick: {inside: true, length: 6, lineStyle: {color: '#444'}},
     axisLabel: {show: false}, splitLine: {show: false}}
  ],
  yAxis: [
    Object.assign({}, yCommon, {position: 'left',
      axisLine: {onZero: false, lineStyle: {color: '#222'}},
      axisTick: {inside: true, length: 8, lineStyle: {color: '#222'}},
      axisLabel: {margin: 35, align: 'left', fontFamily: FONT,
        formatter: function (v) { return '{s|' + Math.round(Math.log10(v)) + '}\n{b|10}'; },
        rich: {
          s: {fontSize: 11, color: '#444', fontFamily: FONT, lineHeight: 6, padding: [0, 0, 0, 18]},
          b: {fontSize: 14, fontWeight: 'bold', color: '#111', fontFamily: FONT, lineHeight: 25}
        }},
      name: 'Adc LEM/Adc PMT', nameLocation: 'middle', nameGap: 42,
      nameTextStyle: {fontSize: 29, color: '#111', fontFamily: FONT}}),
    Object.assign({}, yCommon, {position: 'left', axisLine: {show: false},
      axisTick: {inside: true, length: 4, lineStyle: {color: '#222'}, customValues: yMinorTicks},
      axisLabel: {show: false}}),
    Object.assign({}, yCommon, {position: 'right', axisLine: {show: false},
      axisTick: {inside: true, length: 8, lineStyle: {color: '#666'}},
      axisLabel: {show: false}}),
    Object.assign({}, yCommon, {position: 'right', axisLine: {show: false},
      axisTick: {inside: true, length: 4, lineStyle: {color: '#666'}, customValues: yMinorTicks},
      axisLabel: {show: false}})
  ],
  series: [
    {type: 'scatter', name: '39Ar',
     data: [].concat(greenLeft, greenLeftCore, greenMid, greenMidCore, greenRight, greenRightCore, greenOutliers),
     symbol: plus, symbolSize: 7.5, itemStyle: {color: GREEN}, silent: true, large: false},
    {type: 'scatter', name: 'WIMP',
     data: [].concat(blueColumn, blueCore, blueCoreFill, blueTail, blueSparse, blueStreaks),
     symbol: plus, symbolSize: 6.5, itemStyle: {color: BLUE}, silent: true, large: false}
  ],
  graphic: [
    {type: 'ellipse', shape: {cx: 508, cy: 196, rx: 472, ry: 69}, style: {fill: 'none', stroke: RED, lineWidth: 1.5}, z: 100},
    {type: 'ellipse', shape: {cx: 205, cy: 447, rx: 157, ry: 145}, style: {fill: 'none', stroke: RED, lineWidth: 1.5}, z: 100},
    {type: 'text', x: 765, y: 278, style: {text: '39', font: '21px ' + FONT, fill: '#111', verticalAlign: 'middle'}, z: 100},
    {type: 'text', x: 790, y: 288, style: {text: 'Ar', font: '35px ' + FONT, fill: '#111', verticalAlign: 'middle'}, z: 100},
    {type: 'text', x: 328, y: 564, style: {text: 'WIMP', font: '36px ' + FONT, fill: '#111', verticalAlign: 'middle'}, z: 100},
    {type: 'text', x: 525, y: 454, style: {text: 'E = 5 kV/cm', font: '31px ' + FONT, fill: TXTBLUE, verticalAlign: 'middle'}, z: 100},
    {type: 'text', x: 525, y: 493, style: {text: 'LEM  ampli= 10', font: '31px ' + FONT, fill: TXTBLUE, verticalAlign: 'middle'}, z: 100},
    {type: 'text', x: 745, y: 485, style: {text: '3', font: '18px ' + FONT, fill: TXTBLUE, verticalAlign: 'middle'}, z: 100},
    {type: 'text', x: 525, y: 530, style: {text: 'PMT', font: '31px ' + FONT, fill: TXTBLUE, verticalAlign: 'middle'}, z: 100},
    {type: 'text', x: 592, y: 542, style: {text: 'QE', font: '18px ' + FONT, fill: TXTBLUE, verticalAlign: 'middle'}, z: 100},
    {type: 'text', x: 622, y: 530, style: {text: ' = 10 %', font: '31px ' + FONT, fill: TXTBLUE, verticalAlign: 'middle'}, z: 100},
    {type: 'text', x: 901, y: 755, style: {text: 'x 10', font: '13px ' + FONT, fill: '#222', verticalAlign: 'middle'}, z: 100},
    {type: 'text', x: 933, y: 740, style: {text: '4', font: '11px ' + FONT, fill: '#444', verticalAlign: 'middle'}, z: 100}
  ]
};
chart.setOption(option);
</script></body></html>
